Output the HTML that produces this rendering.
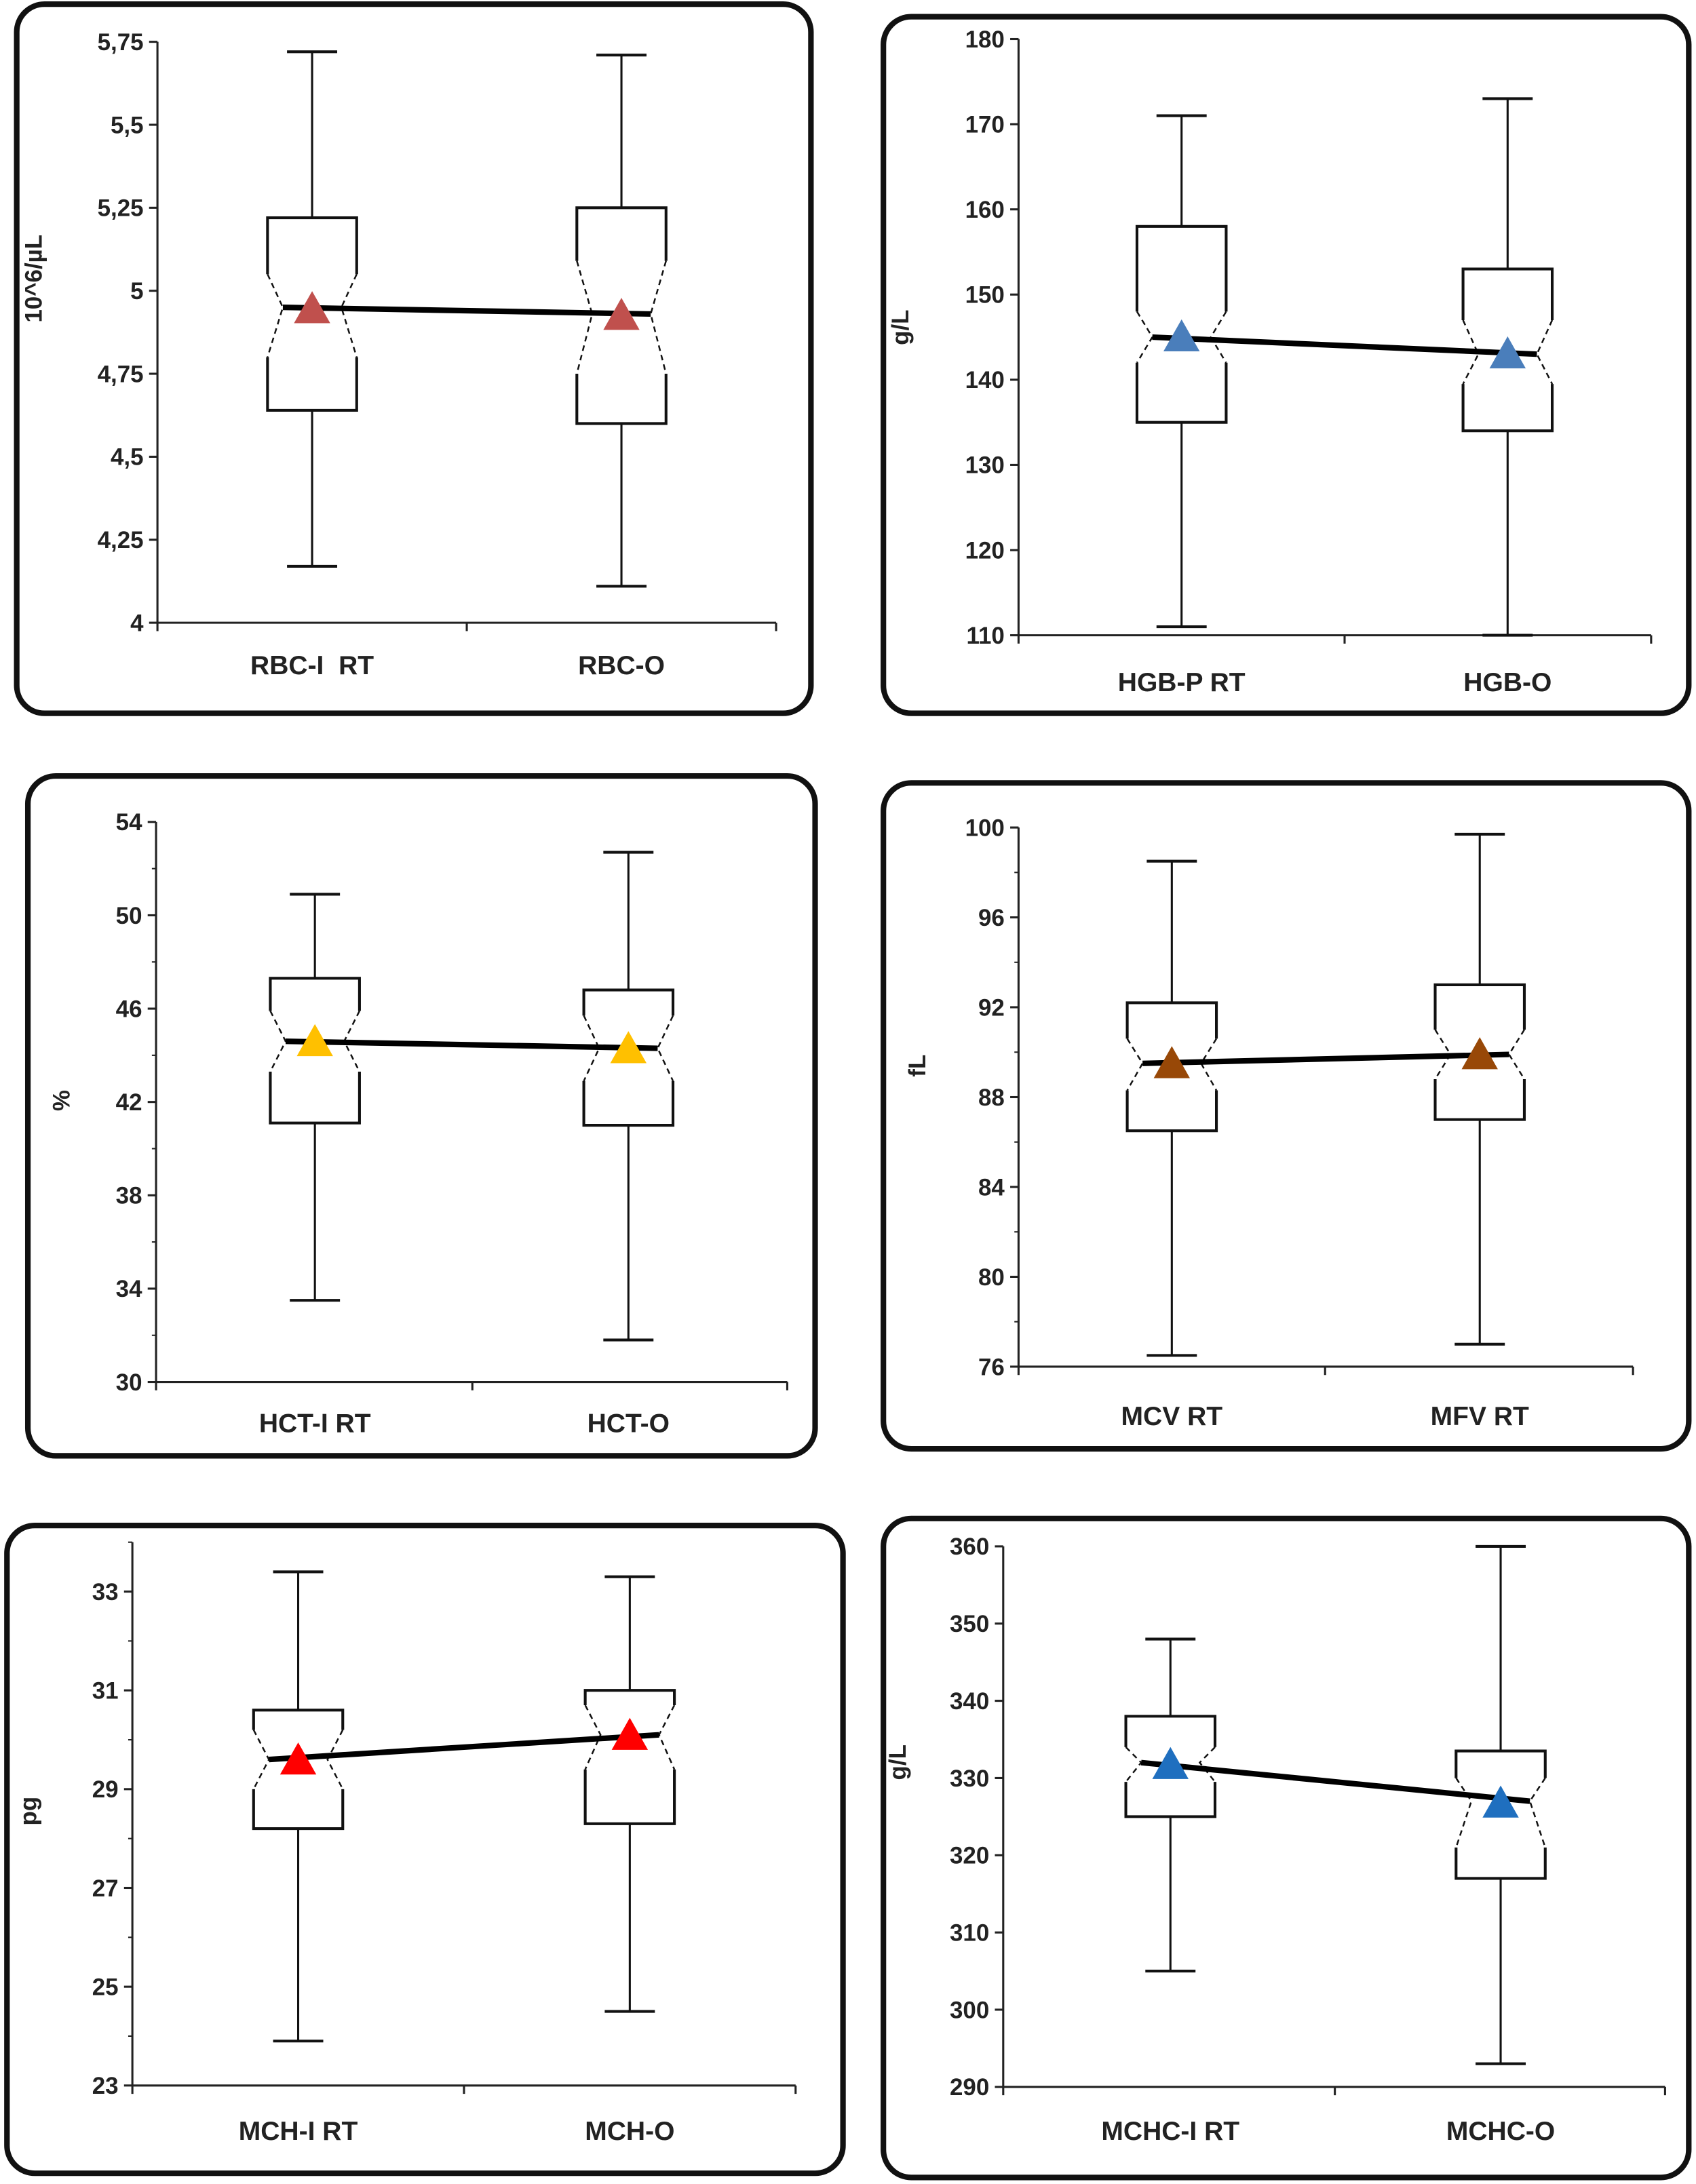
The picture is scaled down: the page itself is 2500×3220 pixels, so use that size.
<!DOCTYPE html>
<html><head><meta charset="utf-8">
<style>
html,body{margin:0;padding:0;background:#fff;}
svg{display:block;}
text{font-family:"Liberation Sans",sans-serif;fill:#222;font-weight:bold;}
</style></head>
<body>
<svg id="fig" width="2500" height="3220" viewBox="0 0 1217.2 1567.7" preserveAspectRatio="none" xmlns="http://www.w3.org/2000/svg"></svg>
<script>
// ---- data (per panel) ----
const categories = [["RBC-I \u00a0RT","RBC-O"],["HGB-P RT","HGB-O"],["HCT-I RT","HCT-O"],["MCV RT","MFV RT"],["MCH-I RT","MCH-O"],["MCHC-I RT","MCHC-O"]];
const yTitles = ["10^6/µL","g/L","%","fL","pg","g/L"];
const whiskerLow = [[4.17,4.11],[111,110],[33.5,31.8],[76.5,77],[23.9,24.5],[305,293]];
const whiskerHigh = [[5.72,5.71],[171,173],[50.9,52.7],[98.5,99.7],[33.4,33.3],[348,360]];
const q1 = [[4.64,4.60],[135,134],[41.1,41.0],[86.5,87.0],[28.2,28.3],[325,317]];
const q3 = [[5.22,5.25],[158,153],[47.3,46.8],[92.2,93.0],[30.6,31.0],[338,333.5]];
const medians = [[4.95,4.93],[145,143],[44.6,44.3],[89.5,89.9],[29.6,30.1],[332,327]];
const notchLow = [[4.80,4.75],[142,139.5],[43.3,42.9],[88.3,88.8],[29.0,29.4],[329.5,321]];
const notchHigh = [[5.05,5.09],[148,147],[45.9,45.7],[90.6,91.0],[30.2,30.7],[334,330]];
const means = [[4.94,4.92],[144.8,142.8],[44.5,44.2],[89.4,89.8],[29.55,30.05],[331.5,326.5]];
const tickLabels = [["4","4,25","4,5","4,75","5","5,25","5,5","5,75"],["110","120","130","140","150","160","170","180"],["30","34","38","42","46","50","54"],["76","80","84","88","92","96","100"],["23","25","27","29","31","33"],["290","300","310","320","330","340","350","360"]];
const tickValues = [[4,4.25,4.5,4.75,5,5.25,5.5,5.75],[110,120,130,140,150,160,170,180],[30,34,38,42,46,50,54],[76,80,84,88,92,96,100],[23,25,27,29,31,33],[290,300,310,320,330,340,350,360]];
const yMin=[4,110,30,76,23,290], yMax=[5.75,180,54,100,34,360];
const minorStep=[0,0,2,2,1,0];
const colors=["#c0504d","#4a7ebb","#ffc000","#984807","#ff0000","#1f6fbf"];
// layout (not data)
const L=[
 {fx:12,fy:3,fw:570,fh:509,ax:113,at:30,ab:447,ar:557,cx:[224,446],mt:335,ly:484,tx:30,ty:200},
 {fx:634,fy:12,fw:578,fh:500,ax:731,at:28,ab:456,ar:1185,cx:[848,1082],mt:965,ly:496,tx:652,ty:235},
 {fx:20,fy:557,fw:565,fh:488,ax:112,at:590,ab:992,ar:565,cx:[226,451],mt:339,ly:1028,tx:50,ty:790},
 {fx:634,fy:562,fw:578,fh:478,ax:731,at:594,ab:981,ar:1172,cx:[841,1062],mt:951,ly:1023,tx:664,ty:765},
 {fx:5,fy:1095,fw:600,fh:465,ax:95,at:1107,ab:1497,ar:571,cx:[214,452],mt:333,ly:1536,tx:26,ty:1300},
 {fx:634,fy:1090,fw:578,fh:473,ax:720,at:1110,ab:1498,ar:1195,cx:[840,1077],mt:958,ly:1536,tx:650,ty:1265}
];
const NS="http://www.w3.org/2000/svg";
const svg=document.getElementById('fig');
function mk(tag,attrs,parent){const e=document.createElementNS(NS,tag);for(const k in attrs)e.setAttribute(k,attrs[k]);(parent||svg).appendChild(e);return e;}
for(let p=0;p<6;p++){
  const l=L[p];
  const g=mk('g',{});
  
  
  const fr=mk('rect',{x:l.fx,y:l.fy,width:l.fw,height:l.fh,rx:20,fill:'#fff',stroke:'#111','stroke-width':4},g);
  
  
  const y=v=>l.ab-(v-yMin[p])/(yMax[p]-yMin[p])*(l.ab-l.at);
  const ya=mk('line',{x1:l.ax,y1:l.at,x2:l.ax,y2:l.ab+6,stroke:'#222','stroke-width':1.5},g);
  
  
  const xa=mk('line',{x1:l.ax,y1:l.ab,x2:l.ar,y2:l.ab,stroke:'#222','stroke-width':1.5},g);
  
  
  [l.mt,l.ar].forEach(x=>mk('line',{x1:x,y1:l.ab,x2:x,y2:l.ab+6,stroke:'#222','stroke-width':1.5},g));
  if(minorStep[p]){for(let v=yMin[p];v<=yMax[p]+1e-9;v+=minorStep[p])mk('line',{x1:l.ax-3,y1:y(v),x2:l.ax,y2:y(v),stroke:'#222','stroke-width':1},g);}
  tickValues[p].forEach((v,i)=>{
    mk('line',{x1:l.ax-6,y1:y(v),x2:l.ax,y2:y(v),stroke:'#222','stroke-width':1.5},g);
    const t=mk('text',{x:l.ax-10,y:y(v)+6,'text-anchor':'end','font-size':17},g);
    t.textContent=tickLabels[p][i];
    
    
  });
  const yt=mk('text',{x:l.tx,y:l.ty,'text-anchor':'middle','font-size':17,transform:`rotate(-90 ${l.tx} ${l.ty})`},g);
  yt.textContent=yTitles[p];
  
  
  const hw=32, ins=11;
  for(let c=0;c<2;c++){
    const cx=l.cx[c];
    const xl=mk('text',{x:cx,y:l.ly,'text-anchor':'middle','font-size':19},g);
    xl.textContent=categories[p][c];
    
    
    mk('line',{x1:cx,y1:y(whiskerHigh[p][c]),x2:cx,y2:y(q3[p][c]),stroke:'#111','stroke-width':1.5},g);
    mk('line',{x1:cx,y1:y(q1[p][c]),x2:cx,y2:y(whiskerLow[p][c]),stroke:'#111','stroke-width':1.5},g);
    mk('line',{x1:cx-18,y1:y(whiskerHigh[p][c]),x2:cx+18,y2:y(whiskerHigh[p][c]),stroke:'#111','stroke-width':2},g);
    mk('line',{x1:cx-18,y1:y(whiskerLow[p][c]),x2:cx+18,y2:y(whiskerLow[p][c]),stroke:'#111','stroke-width':2},g);
    const Y3=y(q3[p][c]),Y1=y(q1[p][c]),Nh=y(notchHigh[p][c]),Nl=y(notchLow[p][c]),M=y(medians[p][c]);
    const bx=mk('path',{d:`M${cx-hw},${Nh} L${cx-hw},${Y3} L${cx+hw},${Y3} L${cx+hw},${Nh} M${cx-hw},${Nl} L${cx-hw},${Y1} L${cx+hw},${Y1} L${cx+hw},${Nl}`,fill:'none',stroke:'#111','stroke-width':2},g);
    
    
    mk('path',{d:`M${cx-hw},${Nh} L${cx-hw+ins},${M} L${cx-hw},${Nl} M${cx+hw},${Nh} L${cx+hw-ins},${M} L${cx+hw},${Nl}`,fill:'none',stroke:'#111','stroke-width':1.2,'stroke-dasharray':'4 3'},g);
  }
  const ml=mk('line',{x1:l.cx[0]-hw+ins,y1:y(medians[p][0]),x2:l.cx[1]+hw-ins,y2:y(medians[p][1]),stroke:'#000','stroke-width':4},g);
  
  
  for(let c=0;c<2;c++){
    const cx=l.cx[c],my=y(means[p][c]);
    const tr=mk('polygon',{points:`${cx},${my-14} ${cx-13},${my+9} ${cx+13},${my+9}`,fill:colors[p]},g);
    
    
  }
}
</script>
</body></html>
